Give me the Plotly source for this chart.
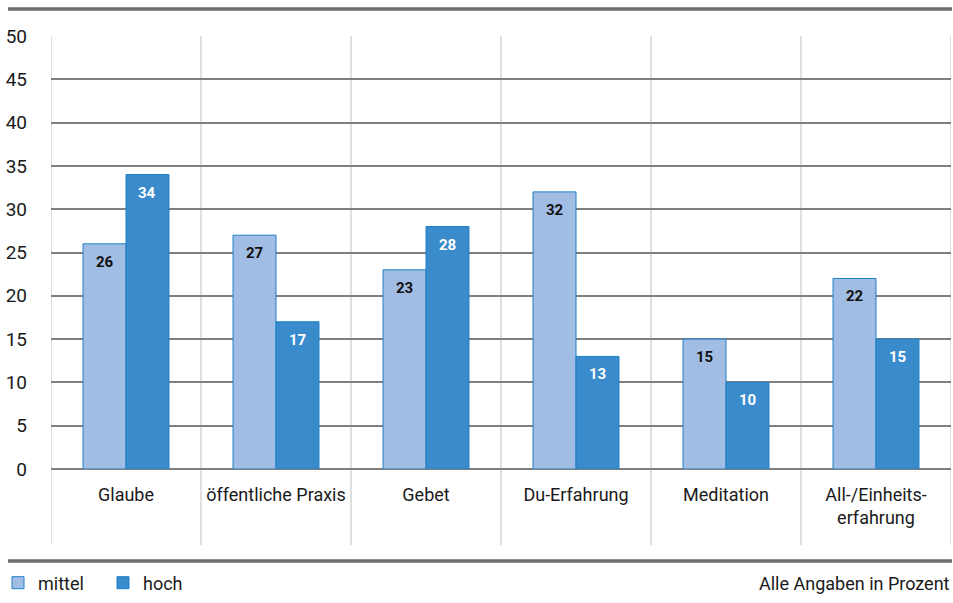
import plotly.graph_objects as go

# --- data -------------------------------------------------------------
categories = ["Glaube", "öffentliche Praxis", "Gebet", "Du-Erfahrung",
              "Meditation", "All-/Einheitserfahrung"]
tick_labels = ["Glaube", "öffentliche Praxis", "Gebet", "Du-Erfahrung",
               "Meditation", "All-/Einheits-<br>erfahrung"]
mittel = [26, 27, 23, 32, 15, 22]
hoch = [34, 17, 28, 13, 10, 15]
y_ticks = [0, 5, 10, 15, 20, 25, 30, 35, 40, 45, 50]

# --- layout geometry (pixels) ------------------------------------------
W, H = 953, 603
L, R, T, B = 51, 2, 36, 134
PW, PH = W - L - R, H - T - B
BARGAP = 0.427

FONT = "Roboto, Arial, sans-serif"
TXT = "#1a1a1a"
C_MID = "#a1bde3"
C_HIGH = "#3a8bcb"
C_EDGE = "#1f80c8"
GRID = "#7f7f7f"
SEP = "#d4d4d4"
RULE = "#6e6e6e"


def fx(px):
    """pixel x -> paper x"""
    return (px - L) / PW


def fy(py):
    """pixel y (from top) -> paper y"""
    return (H - B - py) / PH


fig = go.Figure()
fig.add_trace(go.Bar(x=categories, y=mittel, name="mittel",
                     marker=dict(color=C_MID, line=dict(color=C_EDGE, width=1))))
fig.add_trace(go.Bar(x=categories, y=hoch, name="hoch",
                     marker=dict(color=C_HIGH, line=dict(color=C_EDGE, width=1))))

# value labels just below the top of each bar
bar_px = PW / len(categories) * (1 - BARGAP) / 2
annotations = []
for cat, vm, vh in zip(categories, mittel, hoch):
    annotations.append(dict(x=cat, y=vm, xref="x", yref="y", text=f"<b>{vm}</b>",
                            showarrow=False, xshift=-bar_px / 2, yshift=-18,
                            font=dict(family=FONT, size=15, color="#111111")))
    annotations.append(dict(x=cat, y=vh, xref="x", yref="y", text=f"<b>{vh}</b>",
                            showarrow=False, xshift=bar_px / 2, yshift=-18,
                            font=dict(family=FONT, size=15, color="#ffffff")))

annotations.append(dict(x=fx(952), y=fy(583), xref="paper", yref="paper",
                        xanchor="right", yanchor="middle", showarrow=False,
                        text="Alle Angaben in Prozent",
                        font=dict(family=FONT, size=18, color=TXT)))

shapes = []
# thick rules at top and bottom
shapes.append(dict(type="line", xref="paper", yref="paper", x0=fx(8), x1=fx(952),
                   y0=fy(9), y1=fy(9), line=dict(color=RULE, width=3.5)))
shapes.append(dict(type="line", xref="paper", yref="paper", x0=fx(8), x1=fx(952),
                   y0=fy(561), y1=fy(561), line=dict(color=RULE, width=3.5)))
# light vertical separators between categories (reaching below the labels)
for i in range(len(categories) + 1):
    shapes.append(dict(type="line", xref="x", yref="paper", x0=i - 0.5, x1=i - 0.5,
                       y0=fy(545), y1=1, layer="below",
                       line=dict(color=SEP, width=1.5)))

fig.update_layout(
    width=W, height=H,
    margin=dict(l=L, r=R, t=T, b=B, pad=0, autoexpand=False),
    paper_bgcolor="white", plot_bgcolor="white",
    barmode="group", bargap=BARGAP, bargroupgap=0,
    font=dict(family=FONT, size=18, color=TXT),
    xaxis=dict(tickvals=categories, ticktext=tick_labels, range=[-0.5, len(categories) - 0.5],
               showgrid=False, zeroline=False, showline=False, ticks="",
               automargin=False,
               tickfont=dict(family=FONT, size=18, color=TXT),
               ticklabelstandoff=13),
    yaxis=dict(range=[0, 50], tickvals=y_ticks, showgrid=True, gridcolor=GRID,
               gridwidth=1.5, zeroline=True, zerolinecolor=GRID, zerolinewidth=1.5,
               showline=False, ticks="", ticklabelstandoff=23, automargin=False,
               tickfont=dict(family=FONT, size=19, color=TXT)),
    legend=dict(orientation="h", x=fx(-2), y=fy(583), xanchor="left", yanchor="middle",
                font=dict(family=FONT, size=18, color=TXT),
                entrywidth=60, entrywidthmode="pixels", bgcolor="rgba(0,0,0,0)"),
    showlegend=True,
    shapes=shapes,
    annotations=annotations,
)

fig.write_html("out.html")
